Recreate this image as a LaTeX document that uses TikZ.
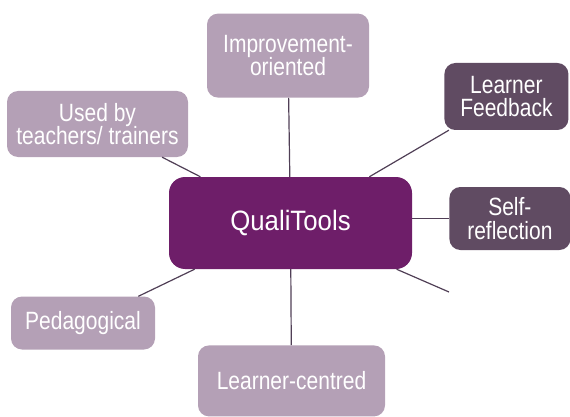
\documentclass[tikz,border=0pt]{standalone}
\usepackage{fontspec}
\setmainfont{Liberation Sans}[FakeStretch=0.84]
\newfontfamily\hubfont{Liberation Sans}[FakeStretch=0.92]
\usepackage{xcolor}
\usetikzlibrary{positioning}
\definecolor{hubpurple}{HTML}{6E1E69}
\definecolor{lightmauve}{HTML}{B4A0B6}
\definecolor{darkmauve}{HTML}{604B62}
\definecolor{spoke}{HTML}{503F56}
\tikzset{
  hub/.style={rounded corners=16pt, fill=hubpurple, text=white, minimum width=243pt, minimum height=92pt, inner sep=0pt, align=center, font=\hubfont\fontsize{28}{30}\selectfont},
  topic/.style={rounded corners=11pt, fill=lightmauve, text=white, inner sep=0pt, align=center, font=\fontsize{25}{23.5}\selectfont},
  topicdark/.style={topic, fill=darkmauve},
  link/.style={draw=spoke, line width=1.2pt},
}

\begin{document}
\begin{tikzpicture}[x=1pt, y=-1pt]
  \useasboundingbox (0,0) rectangle (570,417);

  \node[hub] (qt) at (290.5,223) {QualiTools};

  \node[topic, minimum width=162pt, minimum height=84pt, above=79pt of qt, xshift=-2.5pt] (impr) {Improvement-\\oriented};
  \node[topic, minimum width=187pt, minimum height=71pt, below=76pt of qt, xshift=1pt] (centred) {Learner-centred};
  \node[topic, minimum width=181pt, minimum height=66pt] (users) at (97.5,124) {Used by\\teachers/ trainers};
  \node[topic, minimum width=144pt, minimum height=53pt] (pedag) at (83,323) {Pedagogical};
  \node[topicdark, minimum width=124pt, minimum height=67pt, right=32pt of qt, yshift=126.5pt] (feedback) {Learner\\Feedback};
  \node[topicdark, minimum width=121pt, minimum height=63pt, right=37pt of qt, yshift=4.5pt] (selfref) {Self-\\reflection};
  \coordinate (loose) at (449,292);

  % spokes from the hub
  \draw[link] (qt) -- (impr);
  \draw[link] (qt) -- (centred);
  \draw[link] (qt) -- (users);
  \draw[link] (qt) -- (pedag);
  \draw[link] (qt) -- (feedback);
  \draw[link] (qt.east |- selfref) -- (selfref);
  \draw[link] (qt) -- (loose);
\end{tikzpicture}
\end{document}
